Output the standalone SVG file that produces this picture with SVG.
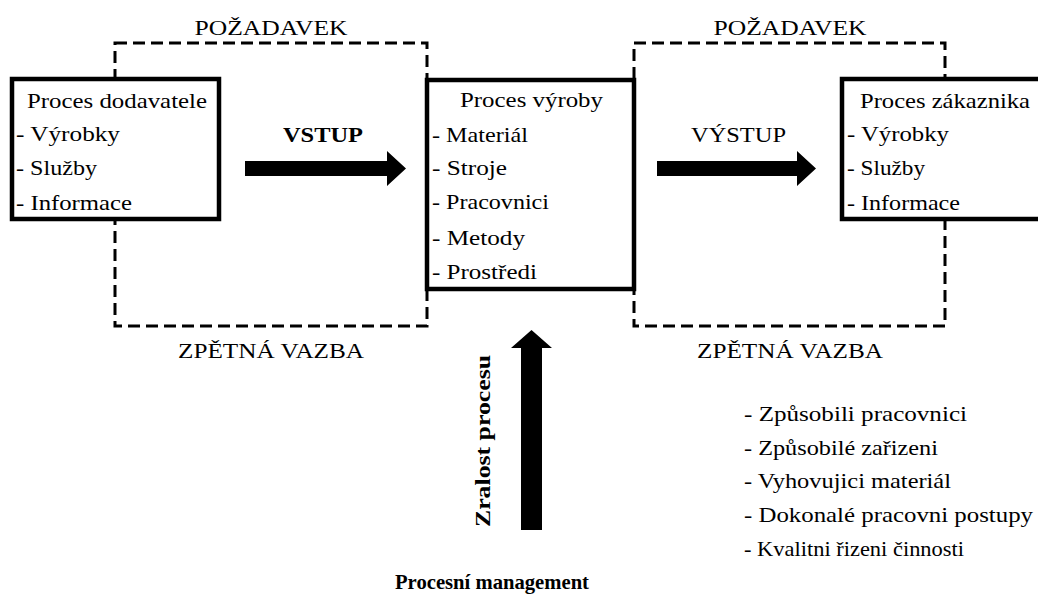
<svg xmlns="http://www.w3.org/2000/svg" width="1038" height="595" viewBox="0 0 1038 595">
<style>
text{font-family:"Liberation Serif","Times New Roman",Times,"DejaVu Serif",serif;fill:#000;font-size:21px}
.b{font-weight:bold}
.dash{fill:none;stroke:#000;stroke-width:3;stroke-dasharray:12 6}
.box{fill:#fff;stroke:#000;stroke-width:4.5}
.arr{fill:#000;stroke:none}
</style>
<rect width="1038" height="595" fill="#fff"/>
<g id="loops">
<rect class="dash" x="115" y="43" width="312" height="283"/>
<rect class="dash" x="634" y="43" width="311" height="283"/>
<text x="271" y="35" text-anchor="middle" textLength="153" lengthAdjust="spacingAndGlyphs">POŽADAVEK</text>
<text x="790" y="35" text-anchor="middle" textLength="153" lengthAdjust="spacingAndGlyphs">POŽADAVEK</text>
<text x="271" y="358" text-anchor="middle" textLength="186" lengthAdjust="spacingAndGlyphs">ZPĚTNÁ VAZBA</text>
<text x="790" y="358" text-anchor="middle" textLength="186" lengthAdjust="spacingAndGlyphs">ZPĚTNÁ VAZBA</text>
</g>
<g id="supplier">
<rect class="box" x="12" y="79" width="207" height="140"/>
<text x="27" y="108" textLength="180" lengthAdjust="spacingAndGlyphs">Proces dodavatele</text>
<text x="16" y="141" textLength="104" lengthAdjust="spacingAndGlyphs">- Výrobky</text>
<text x="16" y="175" textLength="81" lengthAdjust="spacingAndGlyphs">- Služby</text>
<text x="16" y="210" textLength="116" lengthAdjust="spacingAndGlyphs">- Informace</text>
</g>
<g id="production">
<rect class="box" x="427" y="80" width="207" height="209"/>
<text x="460" y="107" textLength="143" lengthAdjust="spacingAndGlyphs">Proces výroby</text>
<text x="432" y="142" textLength="96" lengthAdjust="spacingAndGlyphs">- Materiál</text>
<text x="432" y="175" textLength="75" lengthAdjust="spacingAndGlyphs">- Stroje</text>
<text x="432" y="209" textLength="117" lengthAdjust="spacingAndGlyphs">- Pracovnici</text>
<text x="432" y="245" textLength="93" lengthAdjust="spacingAndGlyphs">- Metody</text>
<text x="432" y="279" textLength="105" lengthAdjust="spacingAndGlyphs">- Prostředi</text>
</g>
<g id="customer">
<rect class="box" x="842" y="79" width="210" height="140"/>
<text x="860" y="108" textLength="170" lengthAdjust="spacingAndGlyphs">Proces zákaznika</text>
<text x="847" y="141" textLength="102" lengthAdjust="spacingAndGlyphs">- Výrobky</text>
<text x="847" y="175" textLength="78" lengthAdjust="spacingAndGlyphs">- Služby</text>
<text x="847" y="210" textLength="113" lengthAdjust="spacingAndGlyphs">- Informace</text>
</g>
<g id="connectors">
<polygon class="arr" points="245,161 387,161 387,151 406,168.5 387,186 387,176 245,176"/>
<polygon class="arr" points="657,161 797,161 797,151 816,168.5 797,186 797,176 657,176"/>
<polygon class="arr" points="521,530 521,348 511,348 531.5,330 552,348 542,348 542,530"/>
<text class="b" x="283" y="142" font-size="22" textLength="80" lengthAdjust="spacingAndGlyphs">VSTUP</text>
<text x="691" y="142" textLength="95" lengthAdjust="spacingAndGlyphs">VÝSTUP</text>
<text class="b" transform="translate(490,527) rotate(-90)" x="0" y="0" font-size="26" textLength="172" lengthAdjust="spacingAndGlyphs">Zralost procesu</text>
</g>
<g id="management">
<text x="744" y="421" textLength="223" lengthAdjust="spacingAndGlyphs">- Způsobili pracovnici</text>
<text x="744" y="455" textLength="194" lengthAdjust="spacingAndGlyphs">- Způsobilé zařizeni</text>
<text x="744" y="488" textLength="207" lengthAdjust="spacingAndGlyphs">- Vyhovujici materiál</text>
<text x="744" y="522" textLength="289" lengthAdjust="spacingAndGlyphs">- Dokonalé pracovni postupy</text>
<text x="744" y="556" textLength="220" lengthAdjust="spacingAndGlyphs">- Kvalitni řizeni činnosti</text>
<text class="b" x="395" y="589" font-size="24" textLength="194" lengthAdjust="spacingAndGlyphs">Procesní management</text>
</g>
</svg>
